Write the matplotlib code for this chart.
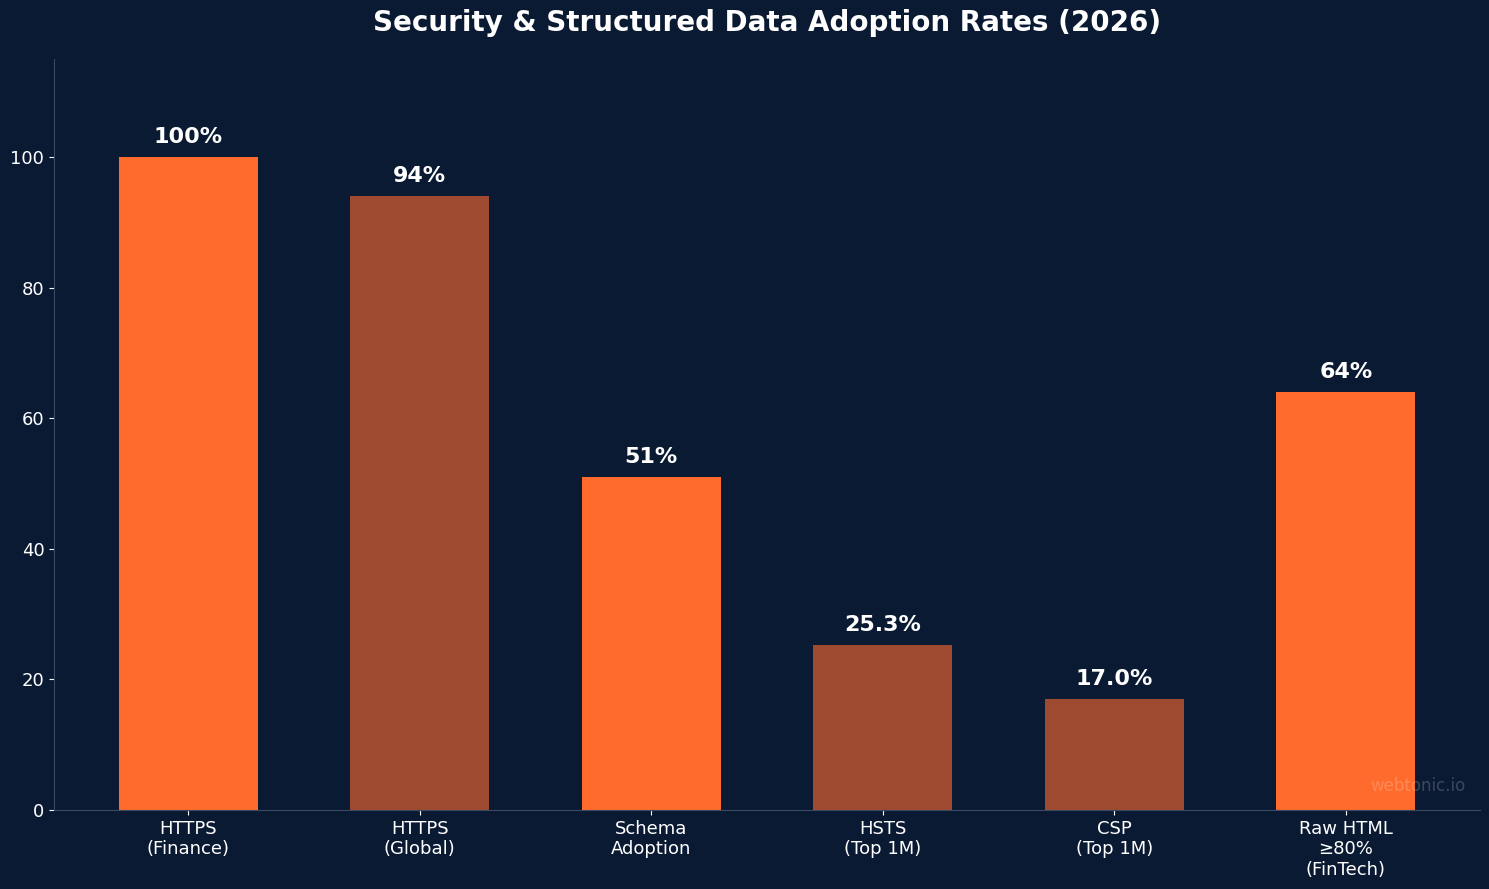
import matplotlib
matplotlib.use('Agg')
import matplotlib.pyplot as plt

BG = '#0b1a33'
ORANGE = '#ff6b2c'
RUST = '#9e4a30'

categories = ['HTTPS\n(Finance)', 'HTTPS\n(Global)', 'Schema\nAdoption',
              'HSTS\n(Top 1M)', 'CSP\n(Top 1M)', 'Raw HTML\n\u226580%\n(FinTech)']
values = [100, 94, 51, 25.3, 17.0, 64]
labels = ['100%', '94%', '51%', '25.3%', '17.0%', '64%']
colors = [ORANGE, RUST, ORANGE, RUST, RUST, ORANGE]

fig, ax = plt.subplots(figsize=(14.89, 8.89), dpi=100)
fig.patch.set_facecolor(BG)
ax.set_facecolor(BG)

x = range(len(categories))
bars = ax.bar(x, values, width=0.6, color=colors)

for b, lab in zip(bars, labels):
    ax.text(b.get_x() + b.get_width() / 2, b.get_height() + 1.5, lab,
            ha='center', va='bottom', color='white', fontsize=16, fontweight='bold')

ax.set_xticks(list(x))
ax.set_xticklabels(categories, color='white', fontsize=13)
ax.tick_params(axis='y', colors='white', labelsize=13)
ax.tick_params(axis='x', colors='white')
ax.set_ylim(0, 115)

for s in ['top', 'right']:
    ax.spines[s].set_visible(False)
for s in ['left', 'bottom']:
    ax.spines[s].set_color('#3b4a63')

ax.set_title('Security & Structured Data Adoption Rates (2026)', color='white',
             fontsize=20, fontweight='bold', pad=20)

ax.text(0.99, 0.02, 'webtonic.io', transform=ax.transAxes, ha='right', va='bottom',
        color='white', alpha=0.2, fontsize=12)

fig.subplots_adjust(left=0.0363, right=0.994, top=0.9336, bottom=0.0889)
plt.savefig('out.png', facecolor=BG)
